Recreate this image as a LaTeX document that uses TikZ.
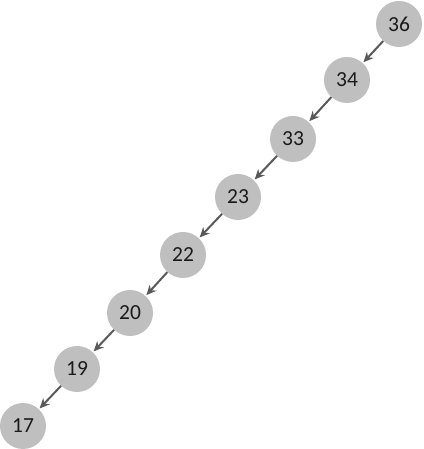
\documentclass[tikz,border=0pt]{standalone}
\usepackage{fontspec}
\setmainfont{Carlito}
\usetikzlibrary{arrows.meta}
\definecolor{keyfill}{HTML}{BFBFBF}
\definecolor{keyline}{HTML}{595959}
\definecolor{keytext}{HTML}{1A1A1A}
\tikzset{
    key/.style={circle, fill=keyfill, minimum size=46pt, inner sep=0pt,
        text=keytext, font=\fontsize{21.5}{21.5}\selectfont},
    link/.style={-{Stealth[length=10pt,width=9pt]}, line width=2pt, draw=keyline,
        shorten >=1pt}
}
\begin{document}
\begin{tikzpicture}[x=1pt,y=1pt]

    % Frame
    \useasboundingbox (0,0) rectangle (423,449);

    % Keys, from the root down to the leftmost leaf
    \foreach \name/\x/\y in {
        36/399/425, 34/347/369, 33/293/310, 23/238/252,
        22/183/194, 20/130/136, 19/77/80, 17/23/23
    }
    {
        \node[key] (k\name) at (\x,\y) {\name};
    }

    % Left children
    \foreach \from/\to in {36/34, 34/33, 33/23, 23/22, 22/20, 20/19, 19/17}
        \draw[link] (k\from) -- (k\to);

\end{tikzpicture}
\end{document}
